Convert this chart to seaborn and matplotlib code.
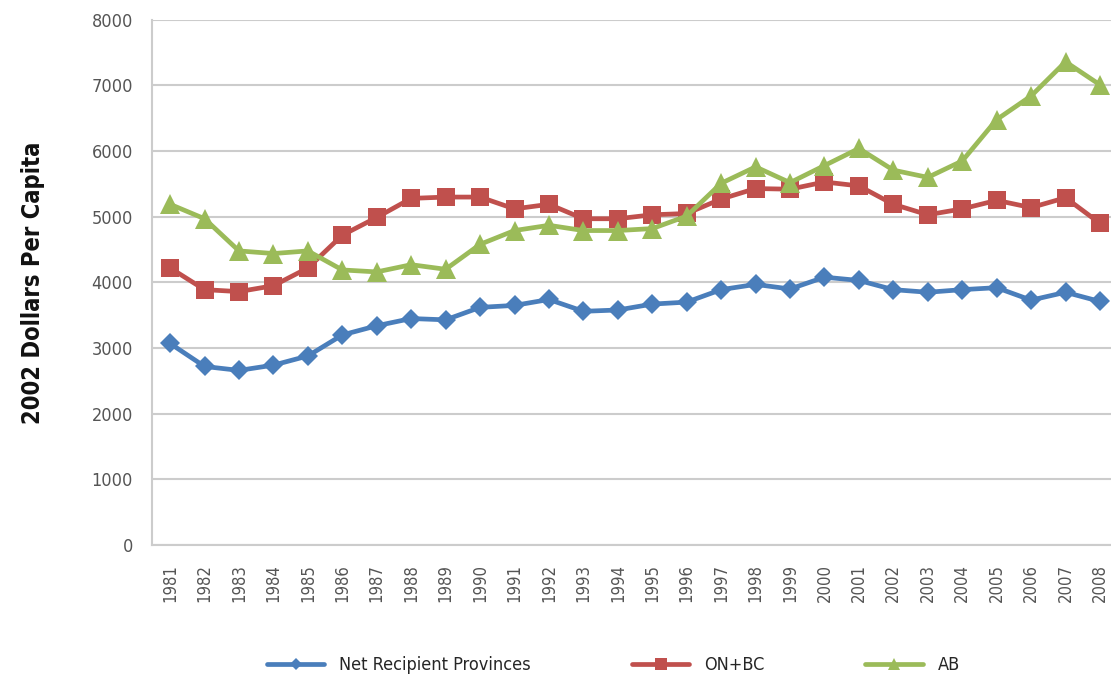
import numpy as np
import pandas as pd
import seaborn as sns
import matplotlib
matplotlib.use("Agg")
import matplotlib.pyplot as plt

years = [str(y) for y in range(1981, 2009)]
net_recipient = [3070, 2720, 2660, 2740, 2880, 3200, 3340, 3450, 3430, 3620,
                 3650, 3740, 3560, 3580, 3670, 3700, 3890, 3970, 3900, 4080,
                 4030, 3890, 3850, 3890, 3920, 3730, 3850, 3710]
on_bc = [4220, 3890, 3860, 3950, 4220, 4720, 4990, 5280, 5300, 5300,
         5120, 5190, 4970, 4970, 5030, 5050, 5270, 5430, 5420, 5530,
         5470, 5190, 5030, 5120, 5250, 5140, 5290, 4900]
ab = [5190, 4970, 4480, 4440, 4480, 4190, 4160, 4270, 4200, 4580,
      4790, 4870, 4790, 4790, 4820, 5010, 5510, 5760, 5520, 5780,
      6040, 5710, 5600, 5850, 6480, 6840, 7360, 7010]
series_names = ["Net Recipient Provinces", "ON+BC", "AB"]
y_ticks = [0, 1000, 2000, 3000, 4000, 5000, 6000, 7000, 8000]

df = pd.DataFrame({
    "Year": years * 3,
    "Value": net_recipient + on_bc + ab,
    "Series": [series_names[0]] * len(years) + [series_names[1]] * len(years) + [series_names[2]] * len(years),
})

sns.set_theme(style="white")
plt.rcParams["font.family"] = ["DejaVu Sans"]

fig = plt.figure(figsize=(11.11, 6.83), dpi=100)
ax = fig.add_axes([0.137, 0.202, 0.863, 0.769])

palette = {series_names[0]: "#4A7EBB", series_names[1]: "#C0504D", series_names[2]: "#9BBB59"}
markers = {series_names[0]: "D", series_names[1]: "s", series_names[2]: "^"}
sizes = {series_names[0]: 10.5, series_names[1]: 13.5, series_names[2]: 14}

for name in series_names:
    sub = df[df["Series"] == name]
    sns.lineplot(data=sub, x="Year", y="Value", ax=ax, color=palette[name],
                 marker=markers[name], markersize=sizes[name], markeredgewidth=0,
                 linewidth=3.4, label=name, sort=False)

ax.set_ylim(0, 8000)
ax.set_xlim(-0.52, len(years) - 0.68)
ax.set_yticks(y_ticks)
ax.set_yticklabels([str(t) for t in y_ticks], color="#555555", fontsize=13, fontstretch="condensed")
ax.set_xticks(range(len(years)))
ax.set_xticklabels(years, rotation=90, color="#555555", fontsize=12, fontstretch="condensed")
ax.tick_params(axis="y", pad=14, length=0)
ax.tick_params(axis="x", pad=14, length=0)
ax.yaxis.grid(True, color="#CCCCCC", linewidth=1.5)
ax.xaxis.grid(False)
for side in ["top", "right"]:
    ax.spines[side].set_visible(False)
for side in ["left", "bottom"]:
    ax.spines[side].set_color("#CCCCCC")
    ax.spines[side].set_linewidth(1.5)
ax.set_xlabel("")
ax.set_ylabel("2002 Dollars Per Capita", fontsize=17, fontweight="bold", color="#111111",
              fontstretch="condensed", labelpad=33)

handles, labels = ax.get_legend_handles_labels()
ax.get_legend().remove()
fig.legend(handles, labels, loc="center", bbox_to_anchor=(0.552, 0.026), ncol=3,
           frameon=False, columnspacing=5.6, handlelength=3.2, markerscale=0.6,
           prop={"size": 13, "stretch": "condensed"})

fig.savefig("out.png", dpi=100)
